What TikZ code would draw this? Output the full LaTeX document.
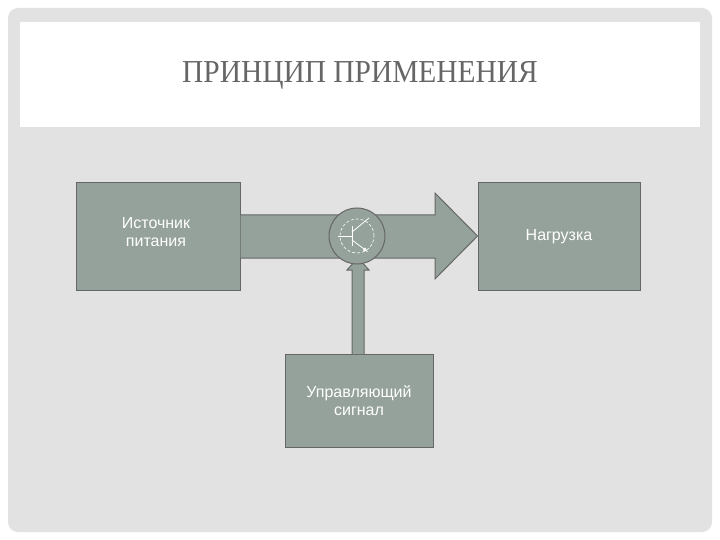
\documentclass[tikz,border=0pt]{standalone}
\usepackage{fontspec}
\setmainfont{Liberation Sans}
\newfontfamily\titlefont{Liberation Serif}
\begin{document}
\begin{tikzpicture}[x=1pt,y=-1pt,
  blk/.style={draw=black!60,line width=1pt,fill=boxc,text=white,align=center,font=\fontsize{16}{18}\selectfont,inner sep=0pt},
  shp/.style={draw=black!60,line width=1pt,fill=boxc}]
\definecolor{boxc}{HTML}{95A29B}
\definecolor{bgc}{HTML}{E2E2E2}
\useasboundingbox (0,0) rectangle (720,540);
\fill[white] (0,0) rectangle (720,540);
\fill[bgc,rounded corners=10pt] (8,8) rectangle (712,532);
\fill[white] (20,22) rectangle (700,127);
\node[font=\titlefont\fontsize{32}{34}\selectfont,text=black!60,xscale=0.92] (title) at (360,75) {ПРИНЦИП ПРИМЕНЕНИЯ};
\node[blk,minimum width=164pt,minimum height=107pt] (src) at (158,236.5) {};
\node[text=white,align=center,font=\fontsize{16}{18}\selectfont] (srct) at (156,232) {Источник\\питания};
\node[blk,minimum width=162pt,minimum height=107pt] (load) at (559,236.5) {Нагрузка};
\node[blk,minimum width=148pt,minimum height=93pt] (ctl) at (359,400.5) {Управляющий\\сигнал};
% main arrow
\draw[shp] (src.east |- 0,215) -- (435,215) -- (435,193) -- (load.west |- 0,236) -- (435,279) -- (435,258) -- (src.east |- 0,258);
% vertical arrow
\draw[shp] (352,354) -- (352,270) -- (347,270) -- (358,258) -- (369,270) -- (364,270) -- (364,354);
% circle
\node[shp,circle,minimum size=56pt] (tr) at (357,236) {};
\node[draw=white,densely dashed,circle,minimum size=34pt,line width=0.6pt] (tc) at (tr.center) {};
\draw[white,line width=0.8pt] (352,226) -- (352,246);
\draw[white,line width=0.8pt] (338,236) -- (352,236);
\draw[white,line width=0.8pt] (352,232) -- (369,218);
\draw[white,line width=0.8pt,-latex] (352,240) -- (368,252);
\end{tikzpicture}
\end{document}
